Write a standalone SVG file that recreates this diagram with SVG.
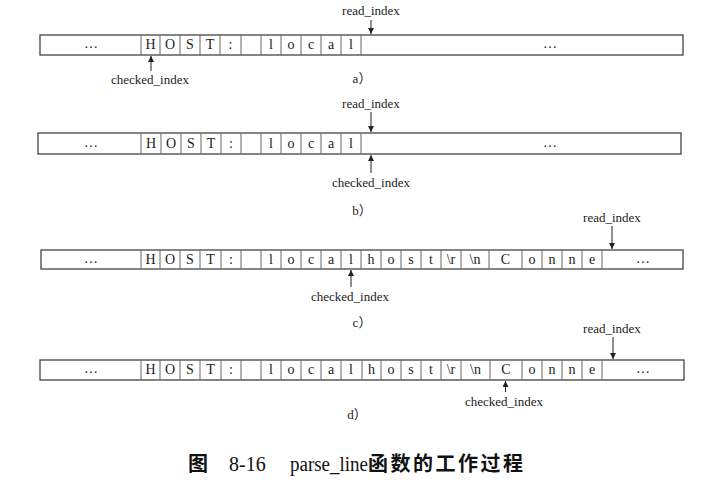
<svg xmlns="http://www.w3.org/2000/svg" width="726" height="494" viewBox="0 0 726 494">
<style>
.box{fill:#fff;stroke:#444;stroke-width:1.3}
.div{stroke:#666;stroke-width:1}
.t{font-family:"Liberation Serif","Noto Sans CJK SC",serif;font-size:14px;fill:#222;text-anchor:middle}
.lbl{font-family:"Liberation Serif","Noto Sans CJK SC",serif;font-size:13px;fill:#222;text-anchor:middle}
.arr{stroke:#222;stroke-width:1;fill:none;marker-end:url(#ah)}
.cap{font-family:"Noto Sans CJK SC",sans-serif;font-size:20px;font-weight:bold;fill:#111}
.capr{font-family:"Liberation Serif",serif;font-size:20px;font-weight:normal;fill:#111}
</style>
<defs>
<marker id="ah" markerUnits="userSpaceOnUse" markerWidth="6" markerHeight="8" refX="6" refY="3" orient="auto">
<path d="M0,0 L6,3 L0,6 Z" fill="#222"/>
</marker>
</defs>
<rect width="726" height="494" fill="#fff"/>

<!-- Row a -->
<g id="row-a">
<rect class="box" x="40" y="35" width="643" height="20"/>
<path class="div" d="M141,35V55M160,35V55M180,35V55M200,35V55M220,35V55M241,35V55M261,35V55M281,35V55M301,35V55M321,35V55M341,35V55M361,35V55"/>
<g class="t">
<text x="91" y="48">…</text>
<text x="150.5" y="49">H</text><text x="170" y="49">O</text><text x="190" y="49">S</text><text x="210" y="49">T</text><text x="230.5" y="49">:</text>
<text x="271" y="49">l</text><text x="291" y="49">o</text><text x="311" y="49">c</text><text x="331" y="49">a</text><text x="351" y="49">l</text>
<text x="550" y="48">…</text>
</g>
<text class="lbl" x="371" y="15">read_index</text>
<text class="lbl" x="150" y="84">checked_index</text>
<text class="lbl" x="362" y="83">a）</text>
</g>

<!-- Row b -->
<g id="row-b">
<rect class="box" x="38" y="133" width="643" height="21"/>
<path class="div" d="M141,133V154M161,133V154M181,133V154M201,133V154M221,133V154M241,133V154M261,133V154M281,133V154M301,133V154M321,133V154M341,133V154M361,133V154"/>
<g class="t">
<text x="91" y="147">…</text>
<text x="151" y="148">H</text><text x="171" y="148">O</text><text x="191" y="148">S</text><text x="211" y="148">T</text><text x="231" y="148">:</text>
<text x="271" y="148">l</text><text x="291" y="148">o</text><text x="311" y="148">c</text><text x="331" y="148">a</text><text x="351" y="148">l</text>
<text x="550" y="147">…</text>
</g>
<text class="lbl" x="371" y="108">read_index</text>
<text class="lbl" x="371" y="187">checked_index</text>
<text class="lbl" x="362" y="215">b）</text>
</g>

<!-- Row c -->
<g id="row-c">
<rect class="box" x="41" y="250" width="642" height="19"/>
<path class="div" d="M141,250V269M160,250V269M180,250V269M200,250V269M221,250V269M241,250V269M261,250V269M281,250V269M301,250V269M321,250V269M341,250V269M361,250V269M381,250V269M401,250V269M421,250V269M441,250V269M461,250V269M489,250V269M522,250V269M542,250V269M562,250V269M582,250V269M602,250V269"/>
<g class="t">
<text x="91" y="263">…</text>
<text x="150.5" y="264">H</text><text x="170" y="264">O</text><text x="190" y="264">S</text><text x="210.5" y="264">T</text><text x="231" y="264">:</text>
<text x="271" y="264">l</text><text x="291" y="264">o</text><text x="311" y="264">c</text><text x="331" y="264">a</text><text x="351" y="264">l</text>
<text x="371" y="264">h</text><text x="391" y="264">o</text><text x="411" y="264">s</text><text x="431" y="264">t</text><text x="451" y="264">\r</text><text x="475" y="264">\n</text>
<text x="505.5" y="264">C</text><text x="532" y="264">o</text><text x="552" y="264">n</text><text x="572" y="264">n</text><text x="592" y="264">e</text>
<text x="643" y="263">…</text>
</g>
<text class="lbl" x="612" y="222">read_index</text>
<text class="lbl" x="350" y="301">checked_index</text>
<text class="lbl" x="362" y="327">c）</text>
</g>

<!-- Row d -->
<g id="row-d">
<rect class="box" x="40" y="360" width="644" height="20"/>
<path class="div" d="M141,360V380M160,360V380M180,360V380M200,360V380M221,360V380M241,360V380M261,360V380M281,360V380M301,360V380M321,360V380M341,360V380M362,360V380M381,360V380M401,360V380M421,360V380M441,360V380M461,360V380M490,360V380M522,360V380M542,360V380M562,360V380M582,360V380M602,360V380"/>
<g class="t">
<text x="91" y="373">…</text>
<text x="150.5" y="374">H</text><text x="170" y="374">O</text><text x="190" y="374">S</text><text x="210.5" y="374">T</text><text x="231" y="374">:</text>
<text x="271" y="374">l</text><text x="291" y="374">o</text><text x="311" y="374">c</text><text x="331" y="374">a</text><text x="351" y="374">l</text>
<text x="371.5" y="374">h</text><text x="391" y="374">o</text><text x="411" y="374">s</text><text x="431" y="374">t</text><text x="451" y="374">\r</text><text x="475.5" y="374">\n</text>
<text x="506" y="374">C</text><text x="532" y="374">o</text><text x="552" y="374">n</text><text x="572" y="374">n</text><text x="592" y="374">e</text>
<text x="643" y="373">…</text>
</g>
<text class="lbl" x="612" y="333">read_index</text>
<text class="lbl" x="504" y="406">checked_index</text>
<text class="lbl" x="357" y="419">d）</text>
</g>

<g id="connectors">
<path class="arr" d="M371,20V34"/>
<path class="arr" d="M151,71V56"/>
<path class="arr" d="M371,112V132"/>
<path class="arr" d="M371,173V155"/>
<path class="arr" d="M612,226V249"/>
<path class="arr" d="M351,287V270"/>
<path class="arr" d="M613,337V359"/>
<path class="arr" d="M505.5,392V381"/>
</g>

<g id="caption">
<text class="cap" x="188" y="471">图</text>
<text class="capr" x="229" y="471">8-16</text>
<text class="cap" x="290" y="471"><tspan class="capr" textLength="78" lengthAdjust="spacingAndGlyphs">parse_line</tspan><tspan x="368" letter-spacing="2.5">函数的工作过程</tspan></text>
</g>
</svg>
